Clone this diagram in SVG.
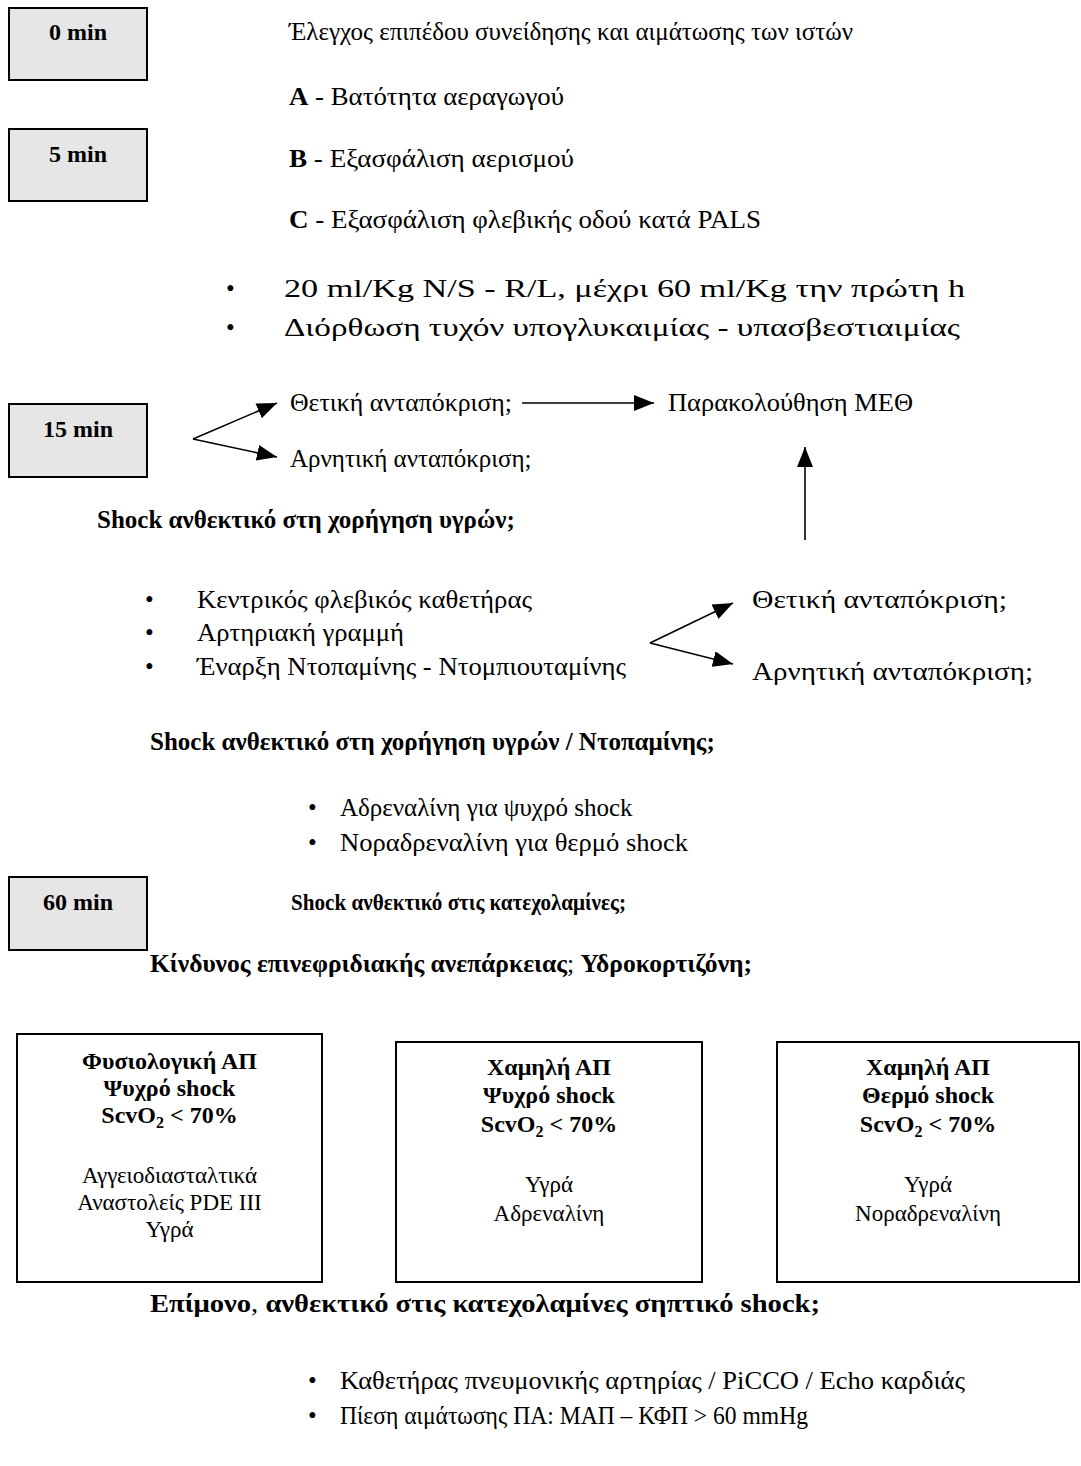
<svg xmlns="http://www.w3.org/2000/svg" width="1081" height="1466" viewBox="0 0 1081 1466">
<style>
text{font-family:"Liberation Serif","DejaVu Serif",serif;font-size:25px;fill:#000}
.b{font-weight:bold}
.tb{fill:#e6e6e6;stroke:#000;stroke-width:2}
.bx{fill:#fff;stroke:#000;stroke-width:2}
.tt{font-weight:bold;font-size:24px;text-anchor:middle}
.bt{font-weight:bold;font-size:24px;text-anchor:middle}
.c{text-anchor:middle;font-size:23px}
.lg{font-size:26px}
.h3{font-size:23px;font-weight:bold}
.ln{stroke:#000;stroke-width:1.6;fill:none}
</style>
<defs>
<marker id="ah" markerUnits="userSpaceOnUse" markerWidth="22" markerHeight="16" refX="20" refY="8" orient="auto">
<path d="M0,0 L20,8 L0,16 Z" fill="#000"/>
</marker>
</defs>
<rect width="1081" height="1466" fill="#fff"/>
<g id="t0"><rect class="tb" x="9" y="8" width="138" height="72"/><text class="tt" x="78" y="40">0 min</text></g>
<g id="t5"><rect class="tb" x="9" y="129" width="138" height="72"/><text class="tt" x="78" y="162">5 min</text></g>
<g id="t15"><rect class="tb" x="9" y="404" width="138" height="73"/><text class="tt" x="78" y="437">15 min</text></g>
<g id="t60"><rect class="tb" x="9" y="877" width="138" height="73"/><text class="tt" x="78" y="910">60 min</text></g>

<g id="step0"><text x="289" y="40">Έλεγχος επιπέδου συνείδησης και αιμάτωσης των ιστών</text></g>
<g id="stepA"><text x="289" y="105" textLength="275" lengthAdjust="spacingAndGlyphs"><tspan class="b">A</tspan> - Βατότητα αεραγωγού</text></g>
<g id="stepB"><text x="289" y="167" textLength="285" lengthAdjust="spacingAndGlyphs"><tspan class="b">B</tspan> - Εξασφάλιση αερισμού</text></g>
<g id="stepC"><text x="289" y="228" textLength="472" lengthAdjust="spacingAndGlyphs"><tspan class="b">C</tspan> - Εξασφάλιση φλεβικής οδού κατά PALS</text></g>
<g id="fluids">
<text x="226" y="297">•</text><text class="lg" x="284" y="297" textLength="681" lengthAdjust="spacingAndGlyphs">20 ml/Kg N/S - R/L, μέχρι 60 ml/Kg την πρώτη h</text>
<text x="226" y="336">•</text><text class="lg" x="284" y="336" textLength="676" lengthAdjust="spacingAndGlyphs">Διόρθωση τυχόν υπογλυκαιμίας - υπασβεστιαιμίας</text>
</g>
<g id="pos1"><text x="290" y="411" textLength="222" lengthAdjust="spacingAndGlyphs">Θετική ανταπόκριση;</text></g>
<g id="neg1"><text x="290" y="467">Αρνητική ανταπόκριση;</text></g>
<g id="icu"><text x="668" y="411" textLength="245" lengthAdjust="spacingAndGlyphs">Παρακολούθηση ΜΕΘ</text></g>
<g id="shock1"><text class="b" x="97" y="528">Shock ανθεκτικό στη χορήγηση υγρών;</text></g>
<g id="cvc">
<text x="145" y="608">•</text><text x="197" y="608" textLength="335" lengthAdjust="spacingAndGlyphs">Κεντρικός φλεβικός καθετήρας</text>
<text x="145" y="641">•</text><text x="197" y="641" textLength="207" lengthAdjust="spacingAndGlyphs">Αρτηριακή γραμμή</text>
<text x="145" y="675">•</text><text x="197" y="675" textLength="429" lengthAdjust="spacingAndGlyphs">Έναρξη Ντοπαμίνης - Ντομπιουταμίνης</text>
</g>
<g id="pos2"><text x="752" y="608" textLength="255" lengthAdjust="spacingAndGlyphs">Θετική ανταπόκριση;</text></g>
<g id="neg2"><text x="752" y="680" textLength="281" lengthAdjust="spacingAndGlyphs">Αρνητική ανταπόκριση;</text></g>
<g id="shock2"><text class="b" x="150" y="750">Shock ανθεκτικό στη χορήγηση υγρών / Ντοπαμίνης;</text></g>
<g id="adr">
<text x="308" y="816">•</text><text x="340" y="816">Αδρεναλίνη  για ψυχρό shock</text>
<text x="308" y="851">•</text><text x="340" y="851" textLength="348" lengthAdjust="spacingAndGlyphs">Νοραδρεναλίνη για θερμό shock</text>
</g>
<g id="shock3"><text class="h3" x="291" y="910" textLength="335" lengthAdjust="spacingAndGlyphs">Shock ανθεκτικό στις κατεχολαμίνες;</text></g>
<g id="adrenal"><text x="150" y="972" textLength="602" lengthAdjust="spacingAndGlyphs"><tspan class="b">Κίνδυνος επινεφριδιακής ανεπάρκειας</tspan>; <tspan class="b">Υδροκορτιζόνη;</tspan></text></g>

<g id="box1"><rect class="bx" x="17" y="1034" width="305" height="248"/>
<text class="bt" x="169.5" y="1069">Φυσιολογική ΑΠ</text>
<text class="bt" x="169.5" y="1096">Ψυχρό shock</text>
<text class="bt" x="169.5" y="1123">ScvO<tspan font-size="16" dy="5">2</tspan><tspan dy="-5"> &lt; 70%</tspan></text>
<text class="c" x="169.5" y="1183">Αγγειοδιασταλτικά</text>
<text class="c" x="169.5" y="1210">Αναστολείς PDE III</text>
<text class="c" x="169.5" y="1237">Υγρά</text>
</g>
<g id="box2"><rect class="bx" x="396" y="1042" width="306" height="240"/>
<text class="bt" x="549" y="1075">Χαμηλή ΑΠ</text>
<text class="bt" x="549" y="1103">Ψυχρό shock</text>
<text class="bt" x="549" y="1132">ScvO<tspan font-size="16" dy="5">2</tspan><tspan dy="-5"> &lt; 70%</tspan></text>
<text class="c" x="549" y="1192">Υγρά</text>
<text class="c" x="549" y="1221">Αδρεναλίνη</text>
</g>
<g id="box3"><rect class="bx" x="777" y="1042" width="302" height="240"/>
<text class="bt" x="928" y="1075">Χαμηλή ΑΠ</text>
<text class="bt" x="928" y="1103">Θερμό shock</text>
<text class="bt" x="928" y="1132">ScvO<tspan font-size="16" dy="5">2</tspan><tspan dy="-5"> &lt; 70%</tspan></text>
<text class="c" x="928" y="1192">Υγρά</text>
<text class="c" x="928" y="1221">Νοραδρεναλίνη</text>
</g>
<g id="shock4"><text x="150" y="1312" textLength="670" lengthAdjust="spacingAndGlyphs"><tspan class="b">Επίμονο</tspan>, <tspan class="b">ανθεκτικό στις κατεχολαμίνες σηπτικό shock;</tspan></text></g>
<g id="final">
<text x="308" y="1389">•</text><text x="340" y="1389" textLength="625" lengthAdjust="spacingAndGlyphs">Καθετήρας πνευμονικής αρτηρίας / PiCCO / Echo καρδιάς</text>
<text x="308" y="1424">•</text><text x="340" y="1424" textLength="468" lengthAdjust="spacingAndGlyphs">Πίεση αιμάτωσης ΠΑ: ΜΑΠ – ΚΦΠ &gt; 60 mmHg</text>
</g>

<g id="connectors">
<line class="ln" x1="193" y1="439" x2="277" y2="403" marker-end="url(#ah)"/>
<line class="ln" x1="193" y1="439" x2="277" y2="457" marker-end="url(#ah)"/>
<line class="ln" x1="522" y1="403" x2="654" y2="403" marker-end="url(#ah)"/>
<line class="ln" x1="805" y1="540" x2="805" y2="447" marker-end="url(#ah)"/>
<line class="ln" x1="650" y1="643" x2="733" y2="603" marker-end="url(#ah)"/>
<line class="ln" x1="650" y1="643" x2="733" y2="664" marker-end="url(#ah)"/>
</g>
</svg>
